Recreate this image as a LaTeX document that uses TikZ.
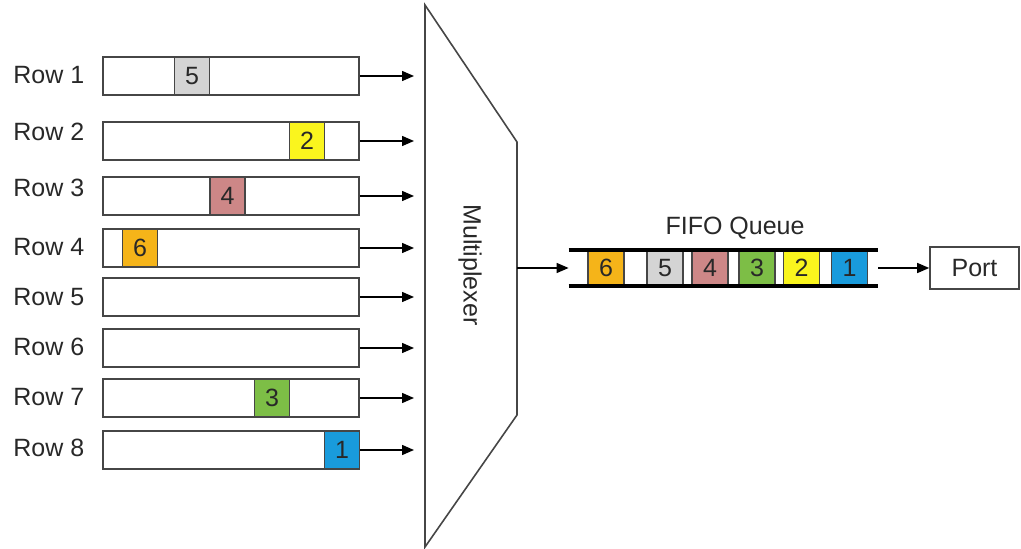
\documentclass[tikz,border=0pt]{standalone}
\usepackage{fontspec}
\setmainfont{Liberation Sans}
\usetikzlibrary{arrows.meta, positioning, calc}

\definecolor{edge}{RGB}{70,70,70}
\definecolor{ink}{RGB}{40,40,40}
\definecolor{pgray}{RGB}{212,212,212}
\definecolor{pyellow}{RGB}{250,245,30}
\definecolor{ppink}{RGB}{205,135,135}
\definecolor{porange}{RGB}{245,180,25}
\definecolor{pgreen}{RGB}{125,190,70}
\definecolor{pblue}{RGB}{25,155,220}

\begin{document}
\begin{tikzpicture}[x=0.5pt, y=-0.5pt, >={Triangle[length=6pt, width=5pt]},
  txt/.style={font=\fontsize{12.5}{15}\selectfont, text=ink, inner sep=0pt},
  rowbox/.style={draw=edge, line width=0.8pt, fill=white, minimum width=128pt, minimum height=19pt, inner sep=0pt},
  pkt/.style={txt, draw=edge, line width=0.8pt, minimum width=17.5pt, minimum height=19pt},
  qpkt/.style={txt, draw=edge, line width=0.8pt, minimum width=18pt, minimum height=17pt},
  feed/.style={->, line width=0.7pt, draw=black}]
  \useasboundingbox (0,0) rectangle (1021,549);

  % input rows
  \foreach \n/\yb/\yl in {1/76/75, 2/141/132, 3/196/188, 4/248/247,
                          5/297/297, 6/348/347, 7/398/397, 8/450/448} {
    \node[txt, anchor=west] (lbl\n) at (13,\yl) {Row \n};
    \node[rowbox] (row\n) at (231,\yb) {};
    \coordinate (mx\n) at (414,\yb);
    \draw[feed] (row\n.east) -- (mx\n);
  }

  % packets waiting in the rows
  \foreach \n/\x/\c/\v in {1/192/pgray/5, 2/307/pyellow/2, 3/227.5/ppink/4,
                           4/140/porange/6, 7/272/pgreen/3, 8/342/pblue/1}
    \node[pkt, fill=\c] (p\n) at (\x,0 |- row\n) {\v};

  % multiplexer
  \draw[draw=edge, line width=0.8pt] (425,5) coordinate (mtl) -- (517,142) coordinate (mtr)
    -- (517,415) coordinate (mbr) -- (425,547) coordinate (mbl) -- cycle;
  \node[txt, rotate=-90] (mux) at (470,265) {Multiplexer};
  \coordinate (mout) at (517,268);

  % output queue
  \node[minimum width=154.5pt, minimum height=18pt, inner sep=0pt] (queue) at (723.5,268) {};
  \foreach \i/\x/\c/\v in {6/606/porange/6, 5/665/pgray/5, 4/710/ppink/4,
                           3/757/pgreen/3, 2/801.5/pyellow/2, 1/849.5/pblue/1}
    \node[qpkt, fill=\c] (q\i) at (\x,268) {\v};
  \draw[line width=2pt] (queue.north west) -- (queue.north east);
  \draw[line width=2pt] (queue.south west) -- (queue.south east);
  \node[txt] (qlbl) at (735,228) {FIFO Queue};

  \node[txt, draw=edge, line width=0.8pt, minimum width=44.5pt, minimum height=21pt] (port) at (974.5,268) {Port};

  \draw[feed] (mout) -- (queue.west);
  \draw[feed] (queue.east) -- (port.west);
\end{tikzpicture}
\end{document}
